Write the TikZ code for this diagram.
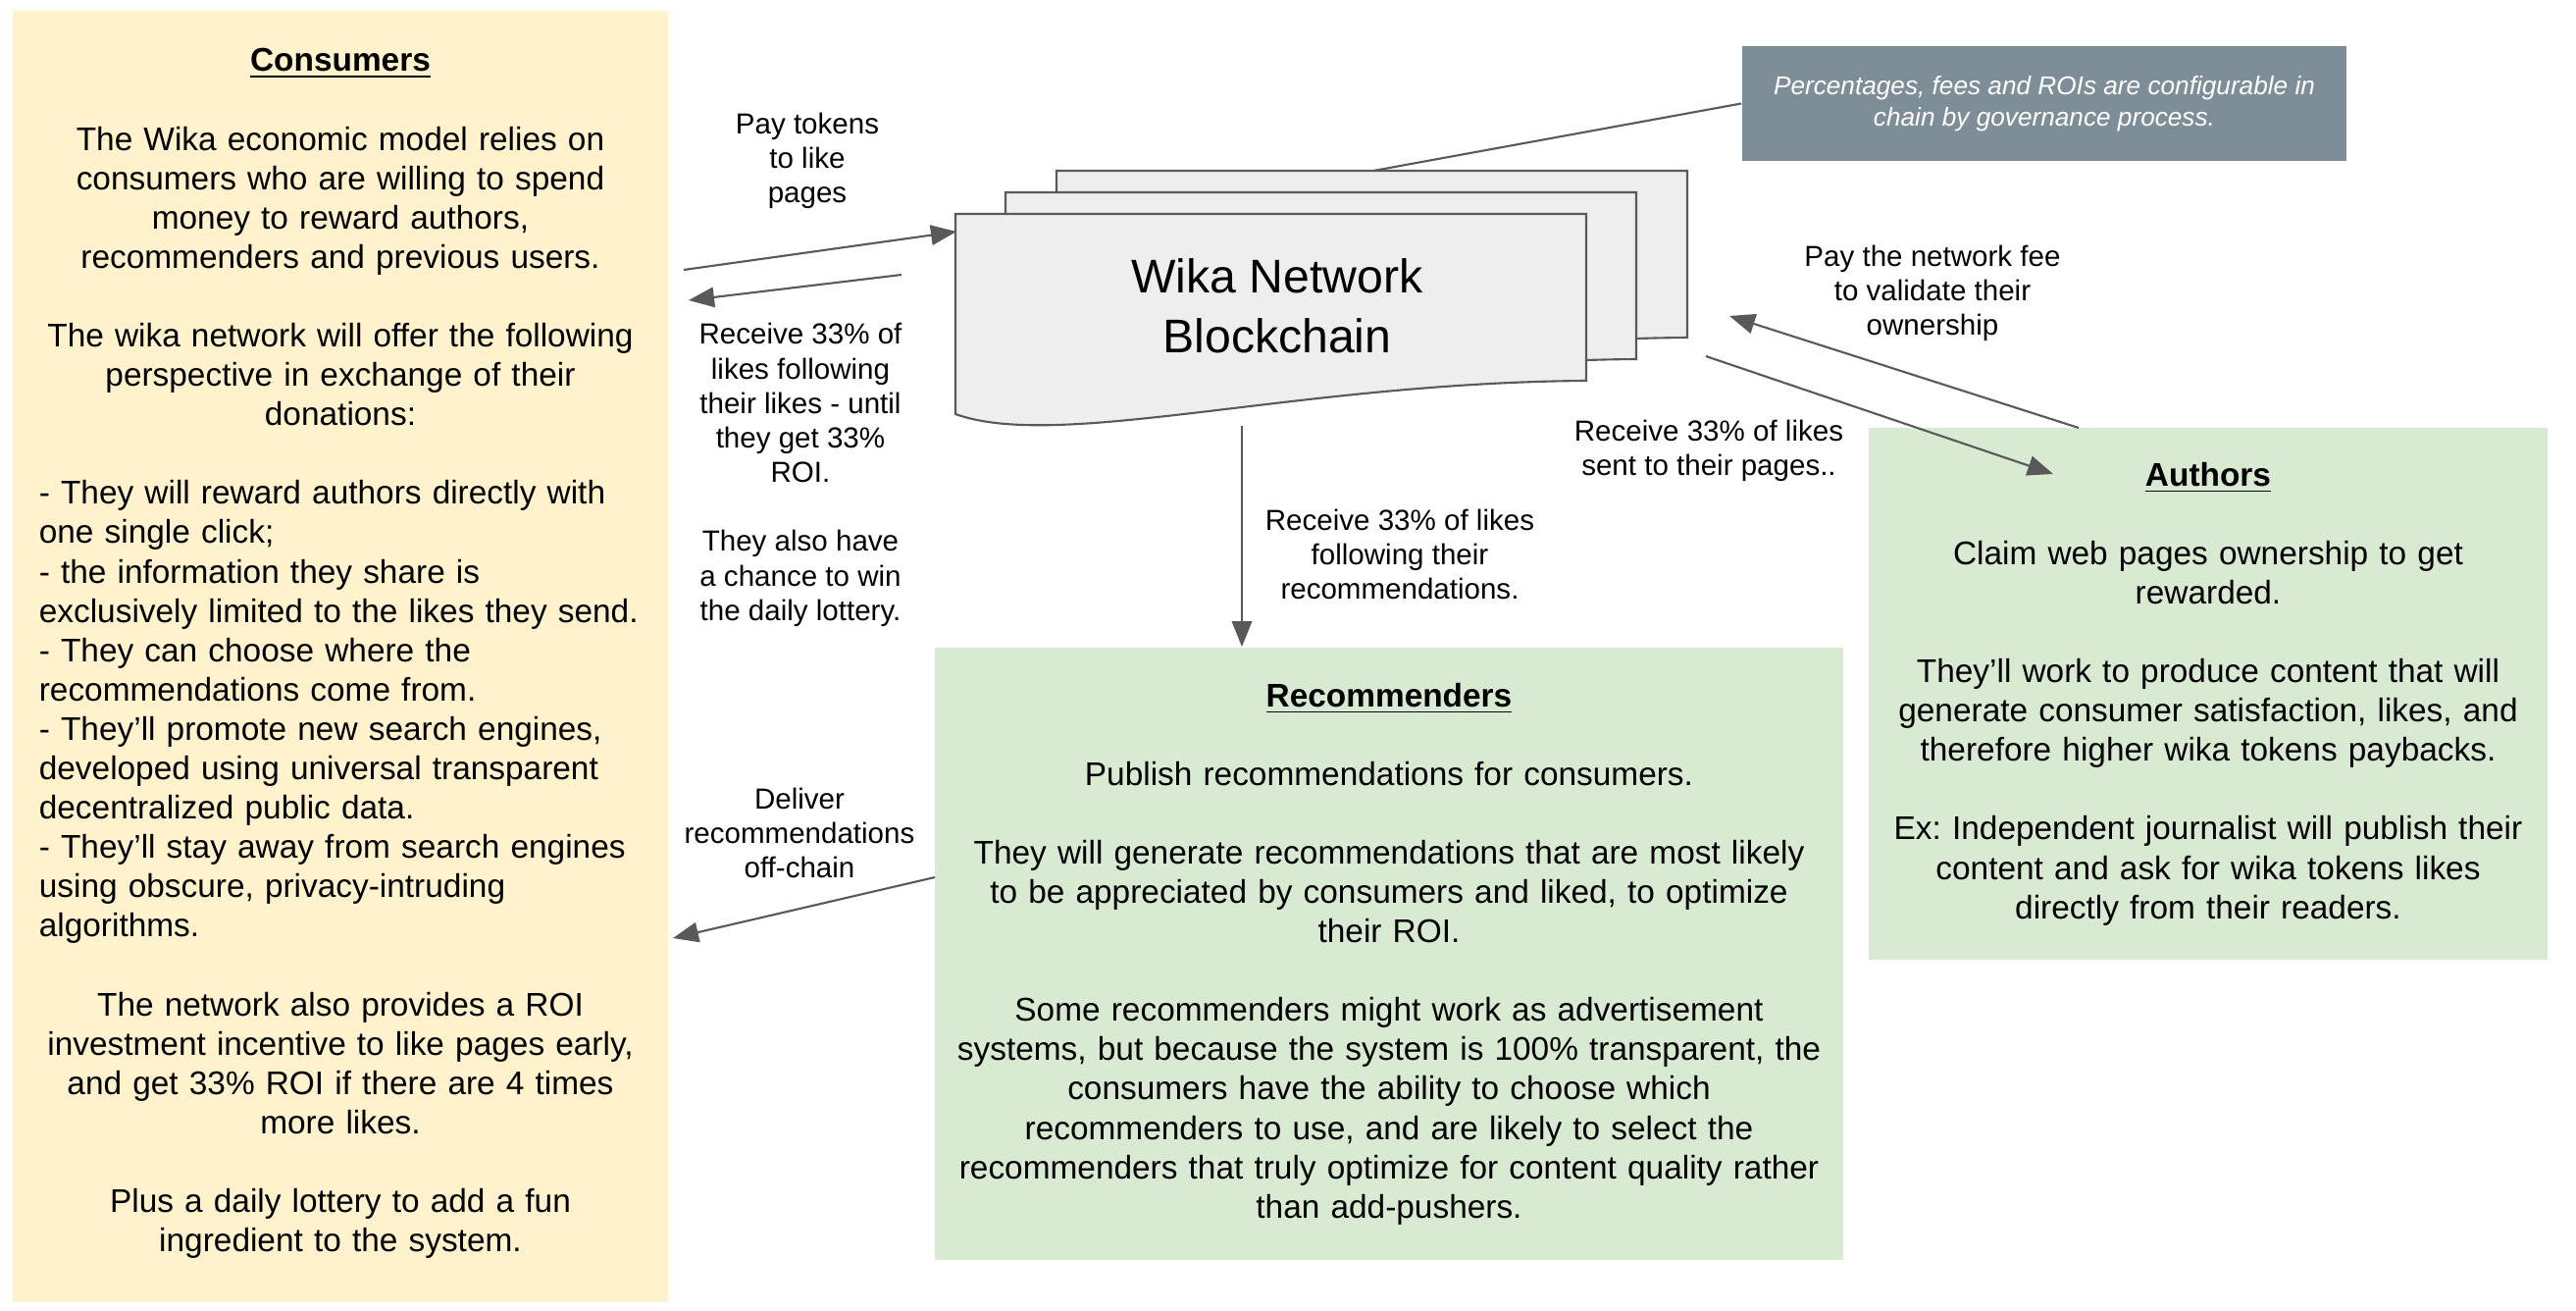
\documentclass[tikz,border=0pt]{standalone}
\usepackage{fontspec}
\setmainfont{Liberation Sans}
\usetikzlibrary{arrows.meta}
\frenchspacing

\definecolor{consfill}{HTML}{FFF2CC}
\definecolor{greenfill}{HTML}{D9EAD3}
\definecolor{notefill}{HTML}{7E8E99}
\definecolor{docfill}{HTML}{EEEEEE}
\definecolor{linegray}{HTML}{595959}

\newcommand{\boxtitle}[1]{\textbf{\underline{#1}}}
\newcommand{\blank}{\par\vspace{\baselineskip}}

\begin{document}
\begin{tikzpicture}[x=0.01cm,y=-0.01cm,
	panel/.style={inner sep=0pt,font=\fontsize{9.5}{11.4}\selectfont},
	lbl/.style={align=center,inner sep=0pt,font=\fontsize{8.4}{10}\selectfont},
	arr/.style={draw=linegray,line width=0.6pt,-{Triangle[length=7.4pt,width=5.8pt]}},
	link/.style={draw=linegray,line width=0.6pt},
	sheet/.style={draw=linegray,fill=docfill,line width=0.6pt},
	note/.style={fill=notefill,text=white,align=center,inner sep=0pt,
		minimum width=6.16cm,minimum height=1.17cm,font=\fontsize{7.45}{9.1}\selectfont\itshape}]

\useasboundingbox (0,0) rectangle (2626,1336);

\node[panel,fill=consfill,minimum width=6.68cm,minimum height=13.16cm,text width=6.14cm] (cons) at (347,669)
{{\centering\boxtitle{Consumers}\blank
The Wika economic model relies on\\consumers who are willing to spend\\money to reward authors,\\recommenders and previous users.\blank
The wika network will offer the following\\perspective in exchange of their\\donations:\par}
\vspace{\baselineskip}
{\raggedright - They will reward authors directly with\\one single click;\\- the information they share is\\exclusively limited to the likes they send.\\- They can choose where the\\recommendations come from.\\- They’ll promote new search engines,\\developed using universal transparent\\decentralized public data.\\- They’ll stay away from search engines\\using obscure, privacy-intruding\\algorithms.\par}
\vspace{\baselineskip}
{\centering The network also provides a ROI\\investment incentive to like pages early,\\and get 33\% ROI if there are 4 times\\more likes.\blank
Plus a daily lottery to add a fun\\ingredient to the system.\par
\nointerlineskip\rule{0pt}{0.06cm}\par}};

\node[panel,fill=greenfill,minimum width=9.26cm,minimum height=6.24cm,text width=8.9cm] (rec) at (1416,972)
{\centering\boxtitle{Recommenders}\blank
Publish recommendations for consumers.\blank
They will generate recommendations that are most likely\\to be appreciated by consumers and liked, to optimize\\their ROI.\blank
Some recommenders might work as advertisement\\systems, but because the system is 100\% transparent, the\\consumers have the ability to choose which\\recommenders to use, and are likely to select the\\recommenders that truly optimize for content quality rather\\than add-pushers.\par};

\node[panel,fill=greenfill,minimum width=6.92cm,minimum height=5.42cm,text width=6.8cm] (auth) at (2251,707)
{\centering\boxtitle{Authors}\blank
Claim web pages ownership to get\\rewarded.\blank
They’ll work to produce content that will\\generate consumer satisfaction, likes, and\\therefore higher wika tokens paybacks.\blank
Ex: Independent journalist will publish their\\content and ask for wika tokens likes\\directly from their readers.\par};

\node[note] (note) at (2084,105.5) {Percentages, fees and ROIs are configurable in\\chain by governance process.};

\foreach \dx/\dy in {103/-44,51/-22,0/0}
	\draw[sheet,shift={(\dx,\dy)}] (974,218) -- (1617,218) -- (1617,388)
		.. controls (1320,390) and (1080,460) .. (974,422) -- cycle;

\node[align=center,inner sep=0pt,font=\fontsize{13.7}{17.3}\selectfont] (chain) at (1302,312) {Wika Network\\Blockchain};

\coordinate (backtop) at (1400,174);
\coordinate (payA) at (697,275);
\coordinate (payB) at (975,236);
\coordinate (getA) at (919,280);
\coordinate (getB) at (702,306);
\coordinate (downA) at (1266,434);
\coordinate (toauthA) at (1739,363);
\coordinate (toauthB) at (2093,483);
\coordinate (feeA) at (2119,436);
\coordinate (feeB) at (1763,322);
\coordinate (delA) at (953,894);
\coordinate (delB) at (686,956);

\draw[link] (note.west) -- (backtop);
\draw[arr] (payA) -- (payB);
\draw[arr] (getA) -- (getB);
\draw[arr] (downA) -- (downA |- rec.north);
\draw[arr] (toauthA) -- (toauthB);
\draw[arr] (feeA) -- (feeB);
\draw[arr] (delA) -- (delB);

\node[lbl] (paylbl) at (823,164) {Pay tokens\\to like\\pages};
\node[lbl] (getlbl) at (816,484) {Receive 33\% of\\likes following\\their likes - until\\they get 33\%\\ROI.\\[10pt]They also have\\a chance to win\\the daily lottery.};
\node[lbl] (dellbl) at (815,849) {Deliver\\recommendations\\off-chain};
\node[lbl] (reclbl) at (1427,565) {Receive 33\% of likes\\following their\\recommendations.};
\node[lbl] (authlbl) at (1742,459) {Receive 33\% of likes\\sent to their pages..};
\node[lbl] (feelbl) at (1970,299) {Pay the network fee\\to validate their\\ownership};
\end{tikzpicture}
\end{document}
